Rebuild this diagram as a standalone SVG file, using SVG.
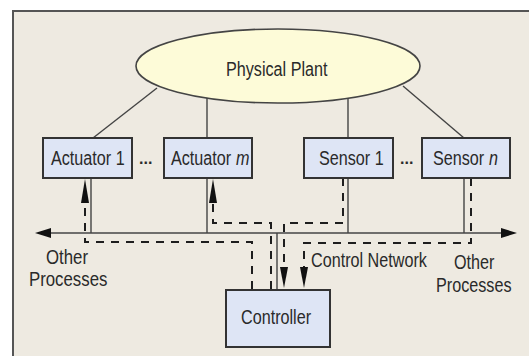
<svg xmlns="http://www.w3.org/2000/svg" width="529" height="356" viewBox="0 0 529 356">
<style>
.t{font-family:"Liberation Sans",Arial,sans-serif;font-size:21px;fill:#2a2a2a}
.i{font-style:italic}
.box{fill:#dee5f5;stroke:#333;stroke-width:2}
.sol{stroke:#444;stroke-width:1.4;fill:none}
.dsh{stroke:#1e1e1e;stroke-width:2;fill:none;stroke-dasharray:8 7}
.ah{fill:#111}
.dots{font-family:"Liberation Sans",Arial,sans-serif;font-size:16px;font-weight:bold;fill:#2a2a2a}
</style>
<rect x="0" y="0" width="529" height="356" fill="#ffffff"/>
<rect x="13" y="11" width="540" height="370" fill="#eeeae1" stroke="#555" stroke-width="2"/>
<g id="connectors">
<line class="sol" x1="157" y1="88" x2="93" y2="138"/>
<line class="sol" x1="207" y1="97" x2="207" y2="138"/>
<line class="sol" x1="348" y1="98" x2="348" y2="138"/>
<line class="sol" x1="403" y1="86" x2="464" y2="138"/>
<line class="sol" x1="91" y1="178" x2="91" y2="233"/>
<line class="sol" x1="207" y1="178" x2="207" y2="233"/>
<line class="sol" x1="348" y1="178" x2="348" y2="233"/>
<line class="sol" x1="464" y1="178" x2="464" y2="233"/>
<line class="sol" x1="277" y1="233" x2="277" y2="290"/>
<line x1="48" y1="233" x2="502" y2="233" stroke="#444" stroke-width="1.6"/>
<polygon class="ah" points="35,233 51,228 51,238"/>
<polygon class="ah" points="517,233 501,228 501,238"/>
<path class="dsh" d="M252,289 V242 H85 V203"/>
<polygon class="ah" points="85,179 81,203 89,203"/>
<path class="dsh" d="M271,289 V223 H213 V203"/>
<polygon class="ah" points="213,179 209,203 217,203"/>
<path class="dsh" d="M343,178 V223 H284 V268"/>
<polygon class="ah" points="284,288 280,267 288,267"/>
<path class="dsh" d="M471,178 V243 H304 V268"/>
<polygon class="ah" points="304,288 300,267 308,267"/>
</g>
<g id="plant">
<ellipse cx="278" cy="66" rx="142" ry="37" fill="#fdfbd8" stroke="#444" stroke-width="1.6"/>
<text class="t" transform="translate(226,76) scale(0.77,1)">Physical Plant</text>
</g>
<g id="actuator1">
<rect class="box" x="43" y="138" width="89" height="40"/>
<text class="t" transform="translate(51,165) scale(0.77,1)">Actuator 1</text>
</g>
<g id="dots1"><text class="dots" x="139" y="164">...</text></g>
<g id="actuatorm">
<rect class="box" x="164" y="138" width="88" height="40"/>
<text class="t" transform="translate(171,165) scale(0.77,1)">Actuator</text>
<text class="t i" transform="translate(236,165) scale(0.77,1)">m</text>
</g>
<g id="sensor1">
<rect class="box" x="304" y="138" width="89" height="40"/>
<text class="t" transform="translate(319,165) scale(0.77,1)">Sensor 1</text>
</g>
<g id="dots2"><text class="dots" x="400" y="164">...</text></g>
<g id="sensorn">
<rect class="box" x="422" y="138" width="88" height="40"/>
<text class="t" transform="translate(433,165) scale(0.77,1)">Sensor</text>
<text class="t i" transform="translate(489,165) scale(0.77,1)">n</text>
</g>
<g id="controller">
<rect class="box" x="226" y="290" width="104" height="57"/>
<text class="t" transform="translate(241,324) scale(0.77,1)">Controller</text>
</g>
<g id="labels">
<text class="t" transform="translate(46,264) scale(0.8,1)">Other</text>
<text class="t" transform="translate(29,286) scale(0.8,1)">Processes</text>
<text class="t" transform="translate(311,267) scale(0.77,1)">Control Network</text>
<text class="t" transform="translate(454,269) scale(0.77,1)">Other</text>
<text class="t" transform="translate(436,292) scale(0.77,1)">Processes</text>
</g>
</svg>
